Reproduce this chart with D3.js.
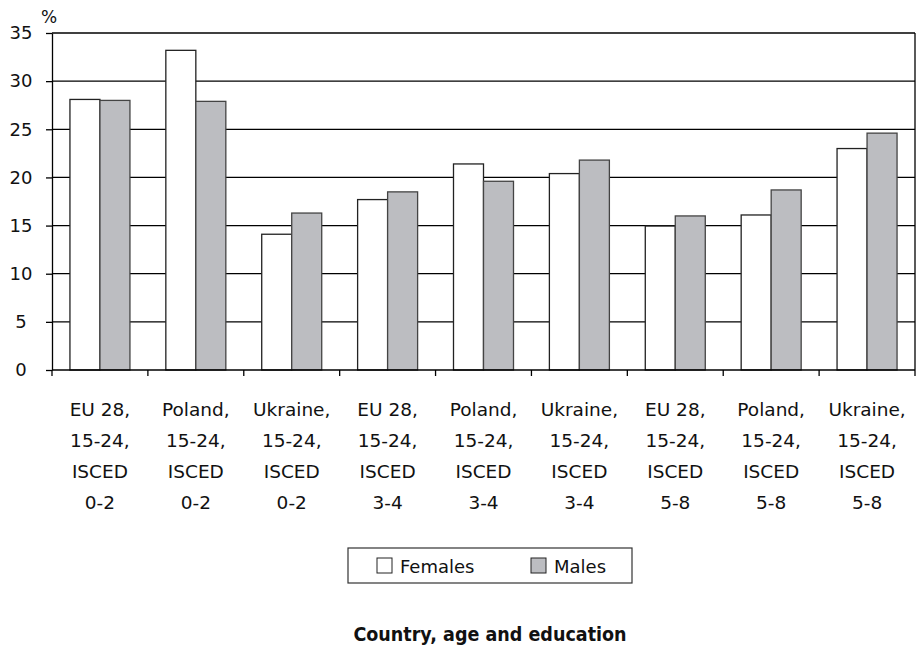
<!DOCTYPE html>
<html>
<head>
<meta charset="utf-8">
<script src="https://cdn.jsdelivr.net/npm/d3@7"></script>
<style>
  body { margin: 0; background: #fff; }
  text { font-family: "DejaVu Sans", sans-serif; fill: #111; }
</style>
</head>
<body>
<svg id="chart" width="918" height="648"></svg>
<script>
// categories (each label split into lines)
var categories = [
  ["EU 28,", "15-24,", "ISCED", "0-2"],
  ["Poland,", "15-24,", "ISCED", "0-2"],
  ["Ukraine,", "15-24,", "ISCED", "0-2"],
  ["EU 28,", "15-24,", "ISCED", "3-4"],
  ["Poland,", "15-24,", "ISCED", "3-4"],
  ["Ukraine,", "15-24,", "ISCED", "3-4"],
  ["EU 28,", "15-24,", "ISCED", "5-8"],
  ["Poland,", "15-24,", "ISCED", "5-8"],
  ["Ukraine,", "15-24,", "ISCED", "5-8"]
];
var females = [28.1, 33.2, 14.1, 17.7, 21.4, 20.4, 14.95, 16.1, 23.0];
var males = [28.0, 27.9, 16.3, 18.5, 19.6, 21.8, 16.0, 18.7, 24.6];
var yTicks = [0, 5, 10, 15, 20, 25, 30, 35];
var seriesNames = ["Females", "Males"];
var seriesColors = ["#ffffff", "#bcbdc1"];

var svg = d3.select("#chart");

// plot area bounds
var padLeft = 52, padRight = 915, padTop = 33, padBottom = 370;

var xScale = d3.scaleBand()
  .domain(d3.range(categories.length))
  .range([padLeft, padRight])
  .paddingInner(0)
  .paddingOuter(0);

var yScale = d3.scaleLinear()
  .domain([0, 35])
  .range([padBottom, padTop]);

// gridlines
svg.append("g")
  .selectAll("line")
  .data(yTicks.filter(d => d > 0))
  .enter()
  .append("line")
  .attr("x1", padLeft)
  .attr("x2", padRight)
  .attr("y1", d => yScale(d))
  .attr("y2", d => yScale(d))
  .attr("stroke", "#000")
  .attr("stroke-width", 1.3);

// bars
var barW = 30;
var offset = (xScale.bandwidth() - 2 * barW) / 2;
var series = [females, males];
series.forEach(function (vals, si) {
  svg.append("g")
    .selectAll("rect")
    .data(vals)
    .enter()
    .append("rect")
    .attr("x", (d, i) => xScale(i) + offset + si * barW)
    .attr("y", d => yScale(d))
    .attr("width", barW)
    .attr("height", d => yScale(0) - yScale(d))
    .attr("fill", seriesColors[si])
    .attr("stroke", si == 0 ? "#222" : "#444")
    .attr("stroke-width", 1.3);
});

// y axis
var leftAxis = d3.axisLeft(yScale).tickValues(yTicks).tickSize(6).tickSizeOuter(0);
var yAxisG = svg.append("g")
  .attr("transform", "translate(" + padLeft + ",0)")
  .call(leftAxis);
yAxisG.select(".domain").attr("stroke", "#000").attr("stroke-width", 1.3);
yAxisG.selectAll(".tick line").attr("stroke", "#000").attr("stroke-width", 1.3);
yAxisG.selectAll(".tick text")
  .attr("x", -31)
  .attr("text-anchor", "middle")
  .style("font-size", "18px")
  .style("font-family", "'DejaVu Sans', sans-serif")
  .attr("fill", "#111");

// right border of plot
svg.append("line")
  .attr("x1", padRight).attr("x2", padRight)
  .attr("y1", padTop).attr("y2", padBottom)
  .attr("stroke", "#000").attr("stroke-width", 1.3);

// x axis with boundary ticks
var xAxisG = svg.append("g");
xAxisG.append("line")
  .attr("x1", padLeft).attr("x2", padRight)
  .attr("y1", padBottom).attr("y2", padBottom)
  .attr("stroke", "#000").attr("stroke-width", 1.5);
xAxisG.selectAll("line.tk")
  .data(d3.range(categories.length + 1))
  .enter()
  .append("line")
  .attr("class", "tk")
  .attr("x1", d => padLeft + d * xScale.bandwidth())
  .attr("x2", d => padLeft + d * xScale.bandwidth())
  .attr("y1", padBottom)
  .attr("y2", padBottom + 6)
  .attr("stroke", "#000").attr("stroke-width", 1.3);

// category labels
var labelG = svg.append("g");
categories.forEach(function (lines, i) {
  var t = labelG.append("text")
    .attr("text-anchor", "middle")
    .style("font-size", "18.5px");
  lines.forEach(function (ln, j) {
    t.append("tspan")
      .attr("x", xScale(i) + xScale.bandwidth() / 2)
      .attr("y", 416 + j * 31)
      .text(ln);
  });
});

// % unit label
svg.append("text")
  .attr("x", 41)
  .attr("y", 23)
  .style("font-size", "17px")
  .text("%");

// legend
var legend = svg.append("g");
legend.append("rect")
  .attr("x", 348).attr("y", 548)
  .attr("width", 284).attr("height", 35)
  .attr("fill", "#fff")
  .attr("stroke", "#333")
  .attr("stroke-width", 1.2);
var legendX = [377, 531];
seriesNames.forEach(function (name, i) {
  legend.append("rect")
    .attr("x", legendX[i]).attr("y", 558)
    .attr("width", 15).attr("height", 15)
    .attr("fill", seriesColors[i])
    .attr("stroke", "#222")
    .attr("stroke-width", 1);
  legend.append("text")
    .attr("x", legendX[i] + 23)
    .attr("y", 573)
    .style("font-size", "18px")
    .text(name);
});

// x axis title
svg.append("text")
  .attr("x", 490)
  .attr("y", 641)
  .attr("text-anchor", "middle")
  .style("font-size", "19.5px")
  .style("font-weight", "bold")
  .style("font-family", "'DejaVu Sans Condensed', sans-serif")
  .text("Country, age and education");
</script>
</body>
</html>
